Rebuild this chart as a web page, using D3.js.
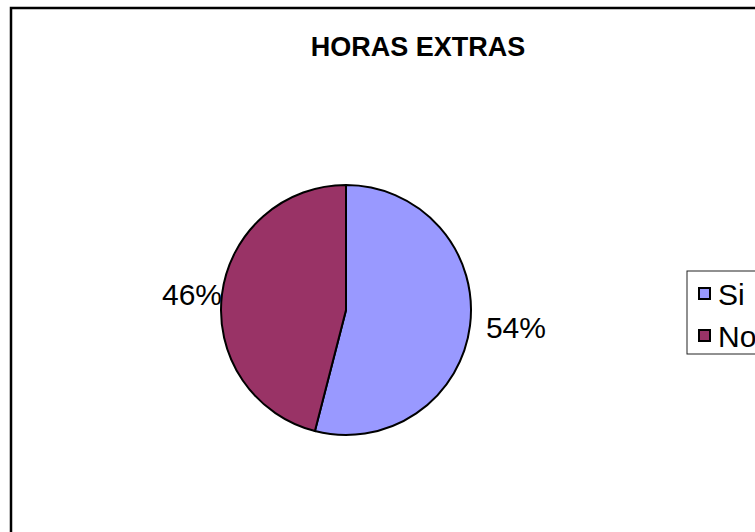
<!DOCTYPE html>
<html>
<head>
<meta charset="utf-8">
<script src="https://cdn.jsdelivr.net/npm/d3@7"></script>
<style>
  body { margin: 0; background: #fff; }
  text { font-family: "Liberation Sans", Arial, sans-serif; }
</style>
</head>
<body>
<div id="content"></div>
<script>
// Screen dimensions
var w = 755;
var h = 532;

// Data
var title = "HORAS EXTRAS";
var categories = ["Si", "No"];
var values = [54, 46];
var colors = ["#9999ff", "#993366"];

// Pie geometry
var cx = 346, cy = 310, r = 125;

var svg = d3.select("#content")
    .append("svg")
    .attr("width", w)
    .attr("height", h);

// Chart frame (runs off the right and bottom edges)
svg.append("rect")
   .attr("x", 11)
   .attr("y", 8)
   .attr("width", 800)
   .attr("height", 600)
   .attr("fill", "white")
   .attr("stroke", "black")
   .attr("stroke-width", 2.5);

svg.append("text")
   .attr("x", 418)
   .attr("y", 56)
   .attr("text-anchor", "middle")
   .attr("font-weight", "bold")
   .attr("font-size", 27)
   .text(title);

var pie = d3.pie().sort(null).value(function(d) { return d; });
var arcs = pie(values);
var arc = d3.arc().innerRadius(0).outerRadius(r);

var g = svg.append("g").attr("transform", "translate(" + cx + "," + cy + ")");

g.selectAll("path")
 .data(arcs)
 .enter()
 .append("path")
 .attr("d", arc)
 .attr("fill", function(d, i) { return colors[i]; })
 .attr("stroke", "black")
 .attr("stroke-width", 2);

// Percent labels outside the slices
var total = d3.sum(values);
var labelR = [141, 125];
g.selectAll("text.pct")
 .data(arcs)
 .enter()
 .append("text")
 .attr("class", "pct")
 .each(function(d, i) {
   var a = (d.startAngle + d.endAngle) / 2;
   var x = Math.sin(a) * labelR[i];
   var y = -Math.cos(a) * labelR[i];
   d3.select(this)
     .attr("x", x)
     .attr("y", y)
     .attr("dy", "0.35em")
     .attr("text-anchor", x > 0 ? "start" : "end");
 })
 .attr("font-size", 30)
 .text(function(d) { return Math.round(d.value / total * 100) + "%"; });

// Legend
var legend = svg.append("g").attr("transform", "translate(687,271)");
legend.append("rect")
   .attr("width", 120)
   .attr("height", 83)
   .attr("fill", "white")
   .attr("stroke", "#222")
   .attr("stroke-width", 1);

var item = legend.selectAll("g.item")
   .data(categories)
   .enter()
   .append("g")
   .attr("class", "item")
   .attr("transform", function(d, i) { return "translate(12," + (17 + i * 42) + ")"; });

item.append("rect")
   .attr("width", 11)
   .attr("height", 11)
   .attr("fill", function(d, i) { return colors[i]; })
   .attr("stroke", "black")
   .attr("stroke-width", 2);

item.append("text")
   .attr("x", 19)
   .attr("y", 17)
   .attr("font-size", 30)
   .text(function(d) { return d; });
</script>
</body>
</html>
